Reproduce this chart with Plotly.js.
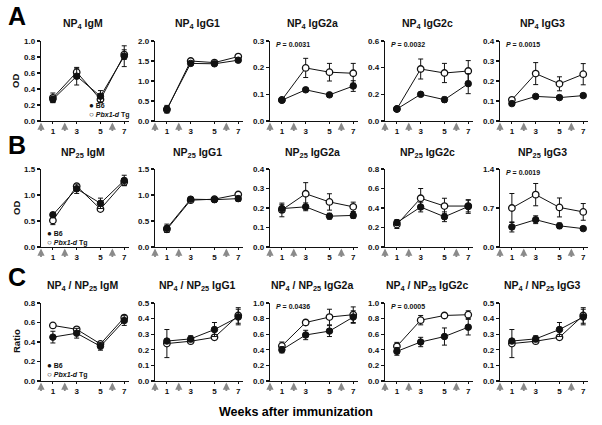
<!DOCTYPE html>
<html><head><meta charset="utf-8">
<script src="https://cdn.plot.ly/plotly-3.0.1.min.js"></script>
<style>html,body{margin:0;padding:0;background:#fff}</style>
</head><body><div id="chart" style="width:602px;height:425px"></div>
<script>
// ---------- data ----------
const weeks = [1, 3, 5, 7];
const weekLabels = ['1', '3', '5', '7'];
const boostWeeks = [0, 2, 6];
const seriesNames = ['B6', 'Pbx1-d Tg'];

const panelTitles = [
  'NP<sub>4</sub> IgM', 'NP<sub>4</sub> IgG1', 'NP<sub>4</sub> IgG2a', 'NP<sub>4</sub> IgG2c', 'NP<sub>4</sub> IgG3',
  'NP<sub>25</sub> IgM', 'NP<sub>25</sub> IgG1', 'NP<sub>25</sub> IgG2a', 'NP<sub>25</sub> IgG2c', 'NP<sub>25</sub> IgG3',
  'NP<sub>4</sub> / NP<sub>25</sub> IgM', 'NP<sub>4</sub> / NP<sub>25</sub> IgG1', 'NP<sub>4</sub> / NP<sub>25</sub> IgG2a',
  'NP<sub>4</sub> / NP<sub>25</sub> IgG2c', 'NP<sub>4</sub> / NP<sub>25</sub> IgG3'
];
const pValues = ['', '', '0.0031', '0.0032', '0.0015', '', '', '', '', '0.0019', '', '', '0.0436', '0.0005', ''];
const rowYTitles = ['OD', 'OD', 'Ratio'];
const rowLetters = ['A', 'B', 'C'];

// Row A: NP4 OD
const np4IgM_b6 = [0.27, 0.56, 0.31, 0.81],   np4IgM_b6Err = [0.04, 0.11, 0.07, 0.13];
const np4IgM_tg = [0.29, 0.61, 0.27, 0.83],   np4IgM_tgErr = [0.06, 0.05, 0.04, 0.06];
const np4IgG1_b6 = [0.30, 1.44, 1.43, 1.52],  np4IgG1_b6Err = [0.09, 0.03, 0.04, 0.05];
const np4IgG1_tg = [0.28, 1.50, 1.46, 1.61],  np4IgG1_tgErr = [0.08, 0.02, 0.03, 0.02];
const np4IgG2a_b6 = [0.078, 0.117, 0.098, 0.131], np4IgG2a_b6Err = [0.004, 0.006, 0.006, 0.02];
const np4IgG2a_tg = [0.079, 0.199, 0.183, 0.179], np4IgG2a_tgErr = [0.004, 0.036, 0.033, 0.037];
const np4IgG2c_b6 = [0.09, 0.20, 0.16, 0.28], np4IgG2c_b6Err = [0.01, 0.01, 0.02, 0.075];
const np4IgG2c_tg = [0.09, 0.39, 0.36, 0.375], np4IgG2c_tgErr = [0.01, 0.075, 0.072, 0.078];
const np4IgG3_b6 = [0.087, 0.123, 0.117, 0.127], np4IgG3_b6Err = [0.008, 0.004, 0.004, 0.004];
const np4IgG3_tg = [0.106, 0.237, 0.186, 0.234], np4IgG3_tgErr = [0.01, 0.055, 0.035, 0.053];

// Row B: NP25 OD
const np25IgM_b6 = [0.62, 1.12, 0.84, 1.28], np25IgM_b6Err = [0.04, 0.09, 0.10, 0.10];
const np25IgM_tg = [0.51, 1.17, 0.73, 1.25], np25IgM_tgErr = [0.08, 0.03, 0.02, 0.07];
const np25IgG1_b6 = [0.36, 0.92, 0.91, 0.93], np25IgG1_b6Err = [0.08, 0.03, 0.05, 0.05];
const np25IgG1_tg = [0.34, 0.90, 0.92, 1.01], np25IgG1_tgErr = [0.06, 0.02, 0.03, 0.02];
const np25IgG2a_b6 = [0.197, 0.206, 0.158, 0.162], np25IgG2a_b6Err = [0.02, 0.02, 0.015, 0.015];
const np25IgG2a_tg = [0.19, 0.273, 0.231, 0.206], np25IgG2a_tgErr = [0.035, 0.057, 0.042, 0.024];
const np25IgG2c_b6 = [0.25, 0.41, 0.31, 0.415], np25IgG2c_b6Err = [0.03, 0.05, 0.05, 0.07];
const np25IgG2c_tg = [0.23, 0.50, 0.42, 0.42], np25IgG2c_tgErr = [0.04, 0.10, 0.08, 0.06];
const np25IgG3_b6 = [0.36, 0.49, 0.38, 0.33], np25IgG3_b6Err = [0.09, 0.07, 0.05, 0.03];
const np25IgG3_tg = [0.70, 0.94, 0.71, 0.63], np25IgG3_tgErr = [0.26, 0.20, 0.17, 0.15];

// Row C: NP4 / NP25 ratio
const ratioIgM_b6 = [0.45, 0.49, 0.356, 0.62], ratioIgM_b6Err = [0.06, 0.05, 0.04, 0.05];
const ratioIgM_tg = [0.57, 0.53, 0.38, 0.65], ratioIgM_tgErr = [0.02, 0.02, 0.02, 0.02];
const ratioIgG1_b6 = [0.256, 0.27, 0.33, 0.41], ratioIgG1_b6Err = [0.01, 0.02, 0.045, 0.05];
const ratioIgG1_tg = [0.24, 0.255, 0.28, 0.42], ratioIgG1_tgErr = [0.09, 0.01, 0.015, 0.05];
const ratioIgG2a_b6 = [0.40, 0.59, 0.64, 0.82], ratioIgG2a_b6Err = [0.04, 0.06, 0.07, 0.08];
const ratioIgG2a_tg = [0.45, 0.75, 0.82, 0.85], ratioIgG2a_tgErr = [0.05, 0.03, 0.10, 0.10];
const ratioIgG2c_b6 = [0.38, 0.50, 0.57, 0.69], ratioIgG2c_b6Err = [0.05, 0.06, 0.11, 0.10];
const ratioIgG2c_tg = [0.445, 0.78, 0.84, 0.85], ratioIgG2c_tgErr = [0.05, 0.06, 0.03, 0.05];
const ratioIgG3_b6 = [0.256, 0.27, 0.33, 0.41], ratioIgG3_b6Err = [0.01, 0.02, 0.045, 0.05];
const ratioIgG3_tg = [0.24, 0.255, 0.28, 0.42], ratioIgG3_tgErr = [0.09, 0.01, 0.015, 0.05];

const panelData = [
  [np4IgM_b6, np4IgM_b6Err, np4IgM_tg, np4IgM_tgErr],
  [np4IgG1_b6, np4IgG1_b6Err, np4IgG1_tg, np4IgG1_tgErr],
  [np4IgG2a_b6, np4IgG2a_b6Err, np4IgG2a_tg, np4IgG2a_tgErr],
  [np4IgG2c_b6, np4IgG2c_b6Err, np4IgG2c_tg, np4IgG2c_tgErr],
  [np4IgG3_b6, np4IgG3_b6Err, np4IgG3_tg, np4IgG3_tgErr],
  [np25IgM_b6, np25IgM_b6Err, np25IgM_tg, np25IgM_tgErr],
  [np25IgG1_b6, np25IgG1_b6Err, np25IgG1_tg, np25IgG1_tgErr],
  [np25IgG2a_b6, np25IgG2a_b6Err, np25IgG2a_tg, np25IgG2a_tgErr],
  [np25IgG2c_b6, np25IgG2c_b6Err, np25IgG2c_tg, np25IgG2c_tgErr],
  [np25IgG3_b6, np25IgG3_b6Err, np25IgG3_tg, np25IgG3_tgErr],
  [ratioIgM_b6, ratioIgM_b6Err, ratioIgM_tg, ratioIgM_tgErr],
  [ratioIgG1_b6, ratioIgG1_b6Err, ratioIgG1_tg, ratioIgG1_tgErr],
  [ratioIgG2a_b6, ratioIgG2a_b6Err, ratioIgG2a_tg, ratioIgG2a_tgErr],
  [ratioIgG2c_b6, ratioIgG2c_b6Err, ratioIgG2c_tg, ratioIgG2c_tgErr],
  [ratioIgG3_b6, ratioIgG3_b6Err, ratioIgG3_tg, ratioIgG3_tgErr]
];

// ---------- axis styling (per panel: y max, tick step) ----------
const yAxisSpec = [
  [1.0, 0.2], [2.0, 0.5], [0.3, 0.1], [0.6, 0.2], [0.4, 0.1],
  [1.5, 0.5], [1.5, 0.5], [0.4, 0.1], [0.8, 0.2], [1.4, 0.7],
  [0.8, 0.2], [0.5, 0.1], [1.0, 0.2], [1.0, 0.2], [0.5, 0.1]
];

// ---------- layout geometry ----------
const W = 602, H = 425;
const colX = [41, 155, 270, 385, 500];
const plotW = 88;
const rowY = [[41, 121], [169, 247], [303, 381]];
const titleY = [24, 153, 286];
const FONT = 'Liberation Sans, Arial, Helvetica, sans-serif';
const INK = '#111';

const traces = [];
const layout = {
  width: W, height: H,
  margin: {l: 0, r: 0, t: 0, b: 0},
  paper_bgcolor: '#fff', plot_bgcolor: 'rgba(0,0,0,0)',
  showlegend: false,
  font: {family: FONT, color: INK},
  annotations: []
};

for (let i = 0; i < 15; i++) {
  const r = Math.floor(i / 5), c = i % 5;
  const s = i === 0 ? '' : String(i + 1);
  const [b6, b6Err, tg, tgErr] = panelData[i];
  const [ymax, dtick] = yAxisSpec[i];

  layout['xaxis' + s] = {
    domain: [colX[c] / W, (colX[c] + plotW) / W],
    range: [0, 7.4], anchor: 'y' + s,
    tickvals: weeks, ticktext: weekLabels,
    showline: true, linecolor: INK, linewidth: 1.2,
    ticks: 'outside', ticklen: 2, tickwidth: 1, tickcolor: INK,
    tickfont: {size: 8, family: FONT, weight: 'bold', color: INK},
    showgrid: false, zeroline: false, fixedrange: true
  };
  layout['yaxis' + s] = {
    domain: [1 - rowY[r][1] / H, 1 - rowY[r][0] / H],
    range: [0, ymax], dtick: dtick, tick0: 0, tickformat: '.1f', anchor: 'x' + s,
    showline: true, linecolor: INK, linewidth: 1.2,
    ticks: 'outside', ticklen: 3, tickwidth: 1.2, tickcolor: INK,
    tickfont: {size: 8, family: FONT, weight: 'bold', color: INK},
    showgrid: false, zeroline: false, fixedrange: true
  };

  const errStyle = {type: 'data', visible: true, color: INK, thickness: 1, width: 2.5};
  traces.push({
    x: weeks, y: tg, xaxis: 'x' + s, yaxis: 'y' + s, name: seriesNames[1],
    mode: 'lines+markers', cliponaxis: false,
    line: {color: INK, width: 1},
    marker: {symbol: 'circle', size: 6.5, color: '#fff', line: {color: INK, width: 1.3}},
    error_y: Object.assign({array: tgErr}, errStyle)
  });
  traces.push({
    x: weeks, y: b6, xaxis: 'x' + s, yaxis: 'y' + s, name: seriesNames[0],
    mode: 'lines+markers', cliponaxis: false,
    line: {color: INK, width: 1},
    marker: {symbol: 'circle', size: 6.5, color: INK, line: {color: INK, width: 1}},
    error_y: Object.assign({array: b6Err}, errStyle)
  });

  // panel title
  layout.annotations.push({
    text: panelTitles[i], xref: 'paper', yref: 'paper',
    x: (colX[c] + plotW / 2 - 2) / W, y: 1 - titleY[r] / H,
    xanchor: 'center', yanchor: 'middle', showarrow: false,
    font: {size: 10.5, family: FONT, weight: 'bold', color: INK}
  });
  // p-value
  if (pValues[i]) {
    layout.annotations.push({
      text: '<i>P</i> = ' + pValues[i], xref: 'x' + s + ' domain', yref: 'y' + s + ' domain',
      x: 0.05, y: 0.95, xanchor: 'left', yanchor: 'middle', showarrow: false,
      font: {size: 7, family: FONT, weight: 'bold', color: INK}
    });
  }
  // immunization arrows
  boostWeeks.forEach(function (wk) {
    layout.annotations.push({
      text: '', x: wk, y: -0.02, xref: 'x' + s, yref: 'y' + s + ' domain',
      showarrow: true, ax: 0, ay: 10, arrowhead: 2, arrowsize: 0.8, arrowwidth: 1.8,
      arrowcolor: '#8a8a8a', standoff: 0
    });
  });
}

// row letters & y titles
const yTitleCenter = [81, 208, 341];
const letterCenter = [16, 145, 277];
for (let r = 0; r < 3; r++) {
  layout.annotations.push({
    text: rowLetters[r], xref: 'paper', yref: 'paper', x: 6 / W, y: 1 - letterCenter[r] / H,
    xanchor: 'left', yanchor: 'middle', showarrow: false,
    font: {size: 25, family: FONT, weight: 'bold', color: '#000'}
  });
  layout.annotations.push({
    text: rowYTitles[r], xref: 'paper', yref: 'paper', x: 16 / W, y: 1 - yTitleCenter[r] / H,
    xanchor: 'center', yanchor: 'middle', showarrow: false, textangle: -90,
    font: {size: 9.5, family: FONT, weight: 'bold', color: INK}
  });
}

// legends (one per row, in first panel) – two lines in one text block
const legendPos = [[87, 110], [45, 238], [45, 370]];
legendPos.forEach(function (p) {
  layout.annotations.push({
    text: '<span style="font-size:8px">●</span> ' + seriesNames[0] +
          '<br><span style="font-size:8px">○</span> <i>Pbx1-d</i> Tg',
    xref: 'paper', yref: 'paper', x: p[0] / W, y: 1 - p[1] / H,
    xanchor: 'left', yanchor: 'middle', align: 'left', showarrow: false,
    font: {size: 7, family: FONT, weight: 'bold', color: INK}
  });
});

// common x title
layout.annotations.push({
  text: 'Weeks after immunization', xref: 'paper', yref: 'paper',
  x: 296 / W, y: 1 - 412 / H, xanchor: 'center', yanchor: 'middle', showarrow: false,
  font: {size: 12.5, family: FONT, weight: 'bold', color: '#000'}
});

Plotly.newPlot('chart', traces, layout, {staticPlot: true, displayModeBar: false});
</script>
</body></html>
